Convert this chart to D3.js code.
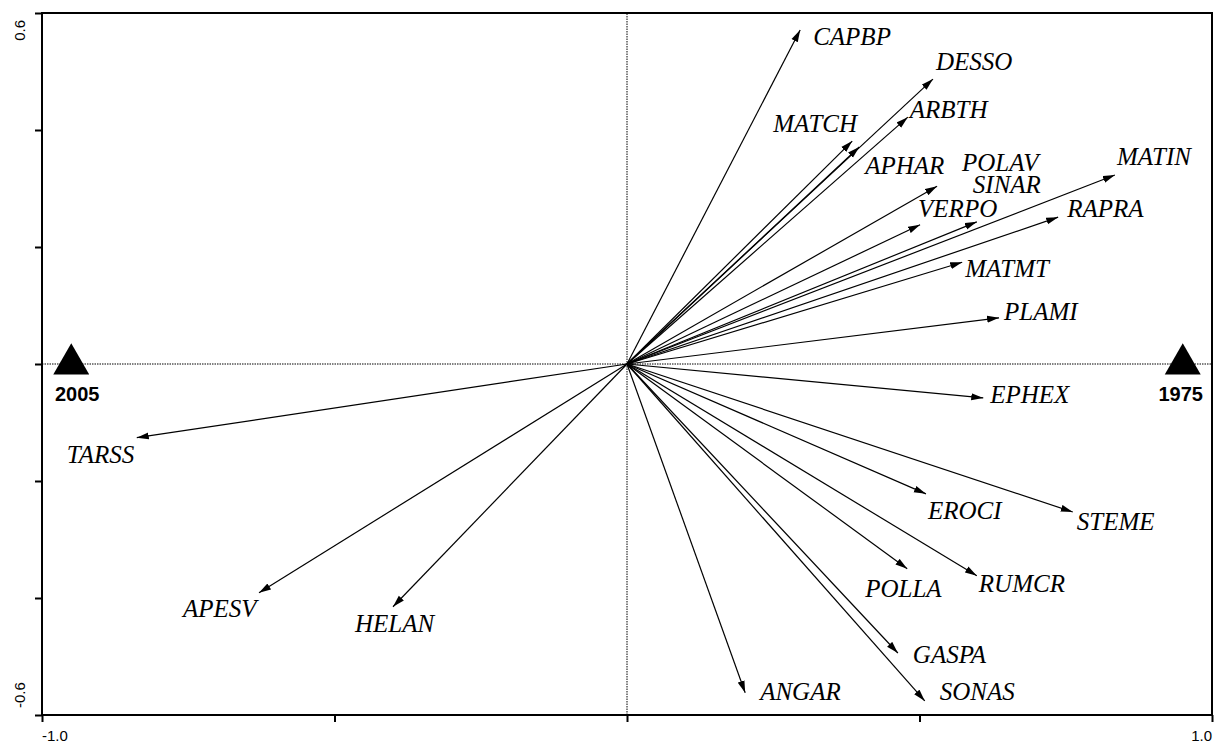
<!DOCTYPE html>
<html>
<head>
<meta charset="utf-8">
<script src="https://cdn.jsdelivr.net/npm/d3@7"></script>
<style>
  html, body { margin: 0; padding: 0; background: #fff; }
  svg { display: block; }
</style>
</head>
<body>
<svg id="chart" width="1215" height="744"></svg>
<script>
// Species arrows (ordination scores on axis 1 and axis 2)
const species = ["CAPBP", "DESSO", "MATCH", "APHAR", "ARBTH", "POLAV", "SINAR", "VERPO",
  "MATIN", "RAPRA", "MATMT", "PLAMI", "EPHEX", "EROCI", "STEME", "RUMCR",
  "POLLA", "GASPA", "SONAS", "ANGAR", "HELAN", "APESV", "TARSS"];
const axis1 = [0.296, 0.523, 0.385, 0.397, 0.480, 0.530, 0.598, 0.501,
  0.834, 0.737, 0.573, 0.636, 0.609, 0.511, 0.762, 0.598,
  0.479, 0.463, 0.509, 0.202, -0.400, -0.629, -0.838];
const axis2 = [0.571, 0.487, 0.381, 0.371, 0.422, 0.304, 0.243, 0.238,
  0.323, 0.251, 0.174, 0.079, -0.058, -0.222, -0.253, -0.362,
  -0.350, -0.494, -0.576, -0.562, -0.415, -0.391, -0.126];

// Sample (year) centroids
const samples = ["2005", "1975"];
const sampleAxis1 = [-0.95, 0.95];
const sampleAxis2 = [0, 0];

// Axis ticks
const xTicks = [-1.0, -0.5, 0, 0.5, 1.0];
const yTicks = [-0.6, -0.4, -0.2, 0, 0.2, 0.4, 0.6];
const xEndLabels = ["-1.0", "1.0"];
const yEndLabels = ["-0.6", "0.6"];

// Label placement relative to each arrow tip (px)
const labelOffsets = [[13, 15], [3, -9], [-79, -9], [6, 27], [2, 1], [25, -15], [-4, -29], [-2, -8],
  [2, -10], [9, 0], [3, 15], [5, 2], [7, 5], [2, 25], [4, 18], [2, 16],
  [-42, 28], [15, 10], [15, -1], [15, 7], [-38, 25], [-76, 24], [-70, 25]];

(function () {
  const svg = d3.select("#chart");
  const pl = 42, pr = 1212, pt = 13, pb = 715;

  const x = d3.scaleLinear().domain([-1, 1]).range([pl, pr]);
  const y = d3.scaleLinear().domain([-0.6, 0.6]).range([pb, pt]);

  // arrowhead marker
  svg.append("defs").append("marker")
    .attr("id", "head")
    .attr("markerUnits", "userSpaceOnUse")
    .attr("viewBox", "0 0 12 8")
    .attr("refX", 12).attr("refY", 4)
    .attr("markerWidth", 12).attr("markerHeight", 8)
    .attr("orient", "auto")
    .append("path")
    .attr("d", "M0,0.5 L12,4 L0,7.5 Z")
    .attr("fill", "#000");

  // dotted zero lines
  svg.append("line")
    .attr("x1", x(-1)).attr("x2", x(1)).attr("y1", y(0)).attr("y2", y(0))
    .attr("stroke", "#000").attr("stroke-width", 1).attr("stroke-dasharray", "1.5,1");
  svg.append("line")
    .attr("x1", x(0)).attr("x2", x(0)).attr("y1", y(-0.6)).attr("y2", y(0.6))
    .attr("stroke", "#000").attr("stroke-width", 1).attr("stroke-dasharray", "1.5,1");

  // species arrows
  const arrows = species.map((s, i) => ({ name: s, a1: axis1[i], a2: axis2[i], off: labelOffsets[i] }));
  svg.append("g").selectAll("line").data(arrows).join("line")
    .attr("x1", x(0)).attr("y1", y(0))
    .attr("x2", d => x(d.a1)).attr("y2", d => y(d.a2))
    .attr("stroke", "#000").attr("stroke-width", 1.2)
    .attr("marker-end", "url(#head)");

  svg.append("g").selectAll("text").data(arrows).join("text")
    .attr("x", d => x(d.a1) + d.off[0])
    .attr("y", d => y(d.a2) + d.off[1])
    .attr("font-family", "'Liberation Serif', 'Times New Roman', serif")
    .attr("font-style", "italic")
    .attr("font-size", 25)
    .attr("fill", "#000")
    .text(d => d.name);

  // sample triangles (centroid at the score)
  const pts = samples.map((s, i) => ({ name: s, a1: sampleAxis1[i], a2: sampleAxis2[i] }));
  const tri = d3.symbol().type(d3.symbolTriangle).size(560);
  svg.append("g").selectAll("path").data(pts).join("path")
    .attr("transform", d => `translate(${x(d.a1)},${y(d.a2)})`)
    .attr("d", tri)
    .attr("fill", "#000");
  svg.append("g").selectAll("text").data(pts).join("text")
    .attr("x", (d, i) => x(d.a1) + (i === 0 ? 6 : -2))
    .attr("y", d => y(d.a2) + 37)
    .attr("text-anchor", "middle")
    .attr("font-family", "'Liberation Sans', Arial, sans-serif")
    .attr("font-weight", "bold")
    .attr("font-size", 20)
    .attr("fill", "#000")
    .text(d => d.name);

  // ticks
  const gx = svg.append("g").attr("transform", `translate(0,${pb})`)
    .call(d3.axisBottom(x).tickValues(xTicks).tickSize(7).tickSizeOuter(0).tickFormat(""));
  const gy = svg.append("g").attr("transform", `translate(${pl},0)`)
    .call(d3.axisLeft(y).tickValues(yTicks).tickSize(7).tickSizeOuter(0).tickFormat(""));
  [gx, gy].forEach(g => {
    g.select(".domain").remove();
    g.selectAll(".tick line").attr("stroke", "#000").attr("stroke-width", 2);
  });

  // frame
  svg.append("rect")
    .attr("x", pl).attr("y", pt)
    .attr("width", pr - pl).attr("height", pb - pt)
    .attr("fill", "none").attr("stroke", "#000").attr("stroke-width", 2);

  // end labels on the axes
  const ff = "'Liberation Sans', Arial, sans-serif", fs = 15;
  svg.append("text").attr("x", x(-1)).attr("y", 741).attr("text-anchor", "start")
    .attr("font-family", ff).attr("font-size", fs).text(xEndLabels[0]);
  svg.append("text").attr("x", x(1)).attr("y", 741).attr("text-anchor", "end")
    .attr("font-family", ff).attr("font-size", fs).text(xEndLabels[1]);
  svg.append("text").attr("transform", `translate(25,${y(-0.6) - 7}) rotate(-90)`).attr("text-anchor", "start")
    .attr("font-family", ff).attr("font-size", fs).text(yEndLabels[0]);
  svg.append("text").attr("transform", `translate(25,${y(0.6) + 7}) rotate(-90)`).attr("text-anchor", "end")
    .attr("font-family", ff).attr("font-size", fs).text(yEndLabels[1]);
})();
</script>
</body>
</html>
